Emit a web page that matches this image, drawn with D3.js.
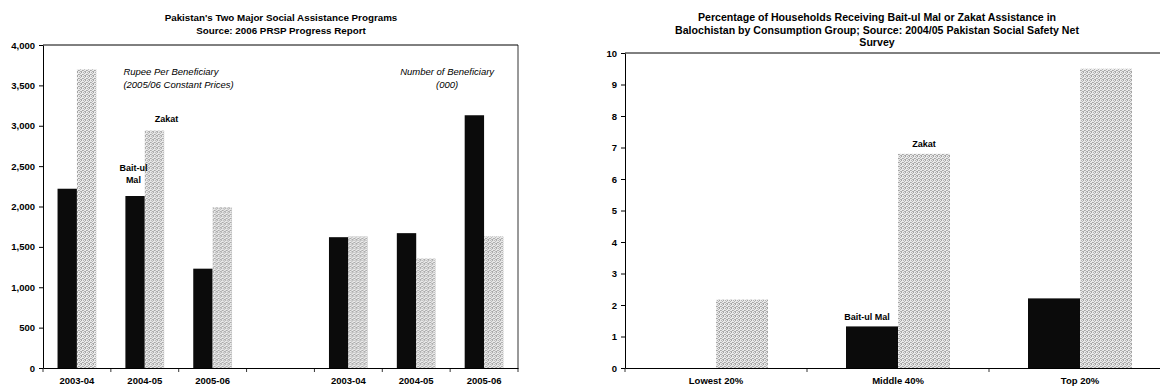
<!DOCTYPE html>
<html><head><meta charset="utf-8">
<script src="https://cdn.jsdelivr.net/npm/d3@7"></script>
<style>
body{margin:0;background:#fff;}
text{font-family:"Liberation Sans",Arial,sans-serif;fill:#000;}
</style>
</head><body>
<svg id="c" width="1160" height="391"></svg>
<script>
// ---------- data ----------
const seriesNames = ["Bait-ul Mal", "Zakat"];

const leftCategories = ["2003-04", "2004-05", "2005-06", "", "2003-04", "2004-05", "2005-06"];
const leftBaitulMal = [2220, 2130, 1230, null, 1620, 1670, 3130];
const leftZakat = [3700, 2940, 1990, null, 1630, 1355, 1630];
const leftTicks = [0, 500, 1000, 1500, 2000, 2500, 3000, 3500, 4000];
const leftTitle = ["Pakistan's Two Major Social Assistance Programs", "Source: 2006 PRSP Progress Report"];

const rightCategories = ["Lowest 20%", "Middle 40%", "Top 20%"];
const rightBaitulMal = [0, 1.32, 2.21];
const rightZakat = [2.17, 6.8, 9.5];
const rightTicks = [0, 1, 2, 3, 4, 5, 6, 7, 8, 9, 10];
const rightTitle = ["Percentage of Households Receiving Bait-ul Mal or Zakat Assistance in",
  "Balochistan by Consumption Group; Source: 2004/05 Pakistan Social Safety Net", "Survey"];

// ---------- drawing ----------
const svg = d3.select("#c");
const defs = svg.append("defs");
const pat = defs.append("pattern").attr("id", "dither").attr("width", 4).attr("height", 4)
  .attr("patternUnits", "userSpaceOnUse");
pat.append("rect").attr("width", 4).attr("height", 4).attr("fill", "#e9e9e9");
[[0,0],[2,0],[1,1],[3,2],[0,2],[2,3],[1,3]].forEach(([px, py], k) =>
  pat.append("rect").attr("x", px).attr("y", py).attr("width", 1).attr("height", 1)
    .attr("fill", k % 2 ? "#a4a4a4" : "#b4b4b4"));

const fills = {"Bait-ul Mal": "#0b0b0b", "Zakat": "url(#dither)"};

function panel(opts) {
  const {cats, bm, zk, ticks, xr, yr, ymax, fmt} = opts;
  const g = svg.append("g");
  const x0 = d3.scaleBand().domain(d3.range(cats.length)).range(xr).padding(0);
  const x1 = d3.scaleBand().domain(seriesNames).range([0, x0.bandwidth()])
    .paddingInner(0).paddingOuter(0.75);
  const y = d3.scaleLinear().domain([0, ymax]).range(yr);

  const rows = cats.map((c, i) => ({i, vals: [
    {s: "Bait-ul Mal", v: bm[i]}, {s: "Zakat", v: zk[i]}]}));
  g.selectAll("g.grp").data(rows).join("g").attr("class", "grp")
    .attr("transform", d => `translate(${x0(d.i)},0)`)
    .selectAll("rect").data(d => d.vals.filter(v => v.v != null && v.v > 0)).join("rect")
    .attr("x", d => x1(d.s)).attr("width", x1.bandwidth())
    .attr("y", d => y(d.v)).attr("height", d => y(0) - y(d.v))
    .attr("fill", d => fills[d.s]);

  // y axis
  const ya = g.append("g").attr("transform", `translate(${xr[0]},0)`)
    .call(d3.axisLeft(y).tickValues(ticks).tickSize(4).tickSizeOuter(0).tickPadding(4).tickFormat(fmt));
  ya.select(".domain").attr("stroke", "#000").attr("stroke-width", 1);
  ya.selectAll(".tick line").attr("stroke", "#000");
  ya.selectAll("text").attr("font-size", 9.5).attr("font-weight", "bold")
    .style("font-family", '"Liberation Sans",Arial,sans-serif');

  // x axis
  const xa = g.append("g").attr("transform", `translate(0,${yr[0]})`)
    .call(d3.axisBottom(x0).tickSize(0).tickSizeOuter(0).tickPadding(9).tickFormat(i => cats[i]));
  xa.select(".domain").attr("stroke", "#000").attr("stroke-width", 1.2);
  xa.selectAll("text").attr("font-size", 9.5).attr("font-weight", "bold")
    .style("font-family", '"Liberation Sans",Arial,sans-serif');
  const bounds = d3.range(cats.length + 1).map(i => xr[0] + i * x0.step());
  g.selectAll("line.bt").data(bounds).join("line").attr("class", "bt")
    .attr("x1", d => d).attr("x2", d => d).attr("y1", yr[0]).attr("y2", yr[0] + 4)
    .attr("stroke", "#000").attr("stroke-width", 0.8);
  return {g, x0, x1, y};
}

// Left panel
const L = panel({cats: leftCategories, bm: leftBaitulMal, zk: leftZakat, ticks: leftTicks,
  xr: [43, 518], yr: [368, 45], ymax: 4000, fmt: d3.format(",")});
L.g.append("line").attr("x1", 43).attr("x2", 518).attr("y1", L.y(4000)).attr("y2", L.y(4000))
  .attr("stroke", "#000").attr("stroke-width", 1);
L.g.append("line").attr("x1", 518).attr("x2", 518).attr("y1", L.y(4000)).attr("y2", L.y(0))
  .attr("stroke", "#000").attr("stroke-width", 0.8);

// Right panel
const R = panel({cats: rightCategories, bm: rightBaitulMal, zk: rightZakat, ticks: rightTicks,
  xr: [625, 1171], yr: [368, 53], ymax: 10, fmt: d3.format("d")});
R.g.append("line").attr("x1", 625).attr("x2", 1160).attr("y1", R.y(10)).attr("y2", R.y(10))
  .attr("stroke", "#000").attr("stroke-width", 1);

// Titles
function title(lines, cx, y0, size, lh) {
  svg.append("g").selectAll("text").data(lines).join("text")
    .attr("x", cx).attr("y", (d, i) => y0 + i * lh)
    .attr("text-anchor", "middle").attr("font-size", size).attr("font-weight", "bold").text(d => d);
}
title(leftTitle, 281, 21, 9.8, 13);
title(rightTitle, 877, 21, 10.6, 12.5);

// Annotations
const ann = svg.append("g");
function t(x, y, s, opt = {}) {
  return ann.append("text").attr("x", x).attr("y", y).text(s)
    .attr("font-size", opt.size || 9.5)
    .attr("font-weight", opt.bold ? "bold" : "normal")
    .attr("font-style", opt.italic ? "italic" : "normal")
    .attr("text-anchor", opt.anchor || "start");
}
const bw = L.x1.bandwidth();
t(L.x0(1) + L.x1("Bait-ul Mal") - 2, L.y(3500) - 10, "Rupee Per Beneficiary", {italic: true});
t(L.x0(1) + L.x1("Bait-ul Mal") - 2, L.y(3500) + 3, "(2005/06 Constant Prices)", {italic: true});
t(L.x0(6) - 3, L.y(3500) - 10, "Number of Beneficiary", {italic: true, anchor: "middle"});
t(L.x0(6) - 3, L.y(3500) + 3, "(000)", {italic: true, anchor: "middle"});
t(L.x0(1) + L.x1("Zakat") + bw / 2 + 12, L.y(leftZakat[1]) - 9, "Zakat", {bold: true, anchor: "middle", size: 9});
t(L.x0(1) + L.x1("Bait-ul Mal") + 8, L.y(leftBaitulMal[1]) - 25, "Bait-ul", {bold: true, anchor: "middle", size: 9});
t(L.x0(1) + L.x1("Bait-ul Mal") + 8, L.y(leftBaitulMal[1]) - 13, "Mal", {bold: true, anchor: "middle", size: 9});

const rbw = R.x1.bandwidth();
t(R.x0(1) + R.x1("Zakat") + rbw / 2, R.y(rightZakat[1]) - 7, "Zakat", {bold: true, anchor: "middle", size: 9});
t(R.x0(1) + R.x1("Bait-ul Mal") + rbw / 2 - 5, R.y(rightBaitulMal[1]) - 6, "Bait-ul Mal", {bold: true, anchor: "middle", size: 9});
</script>
</body></html>
